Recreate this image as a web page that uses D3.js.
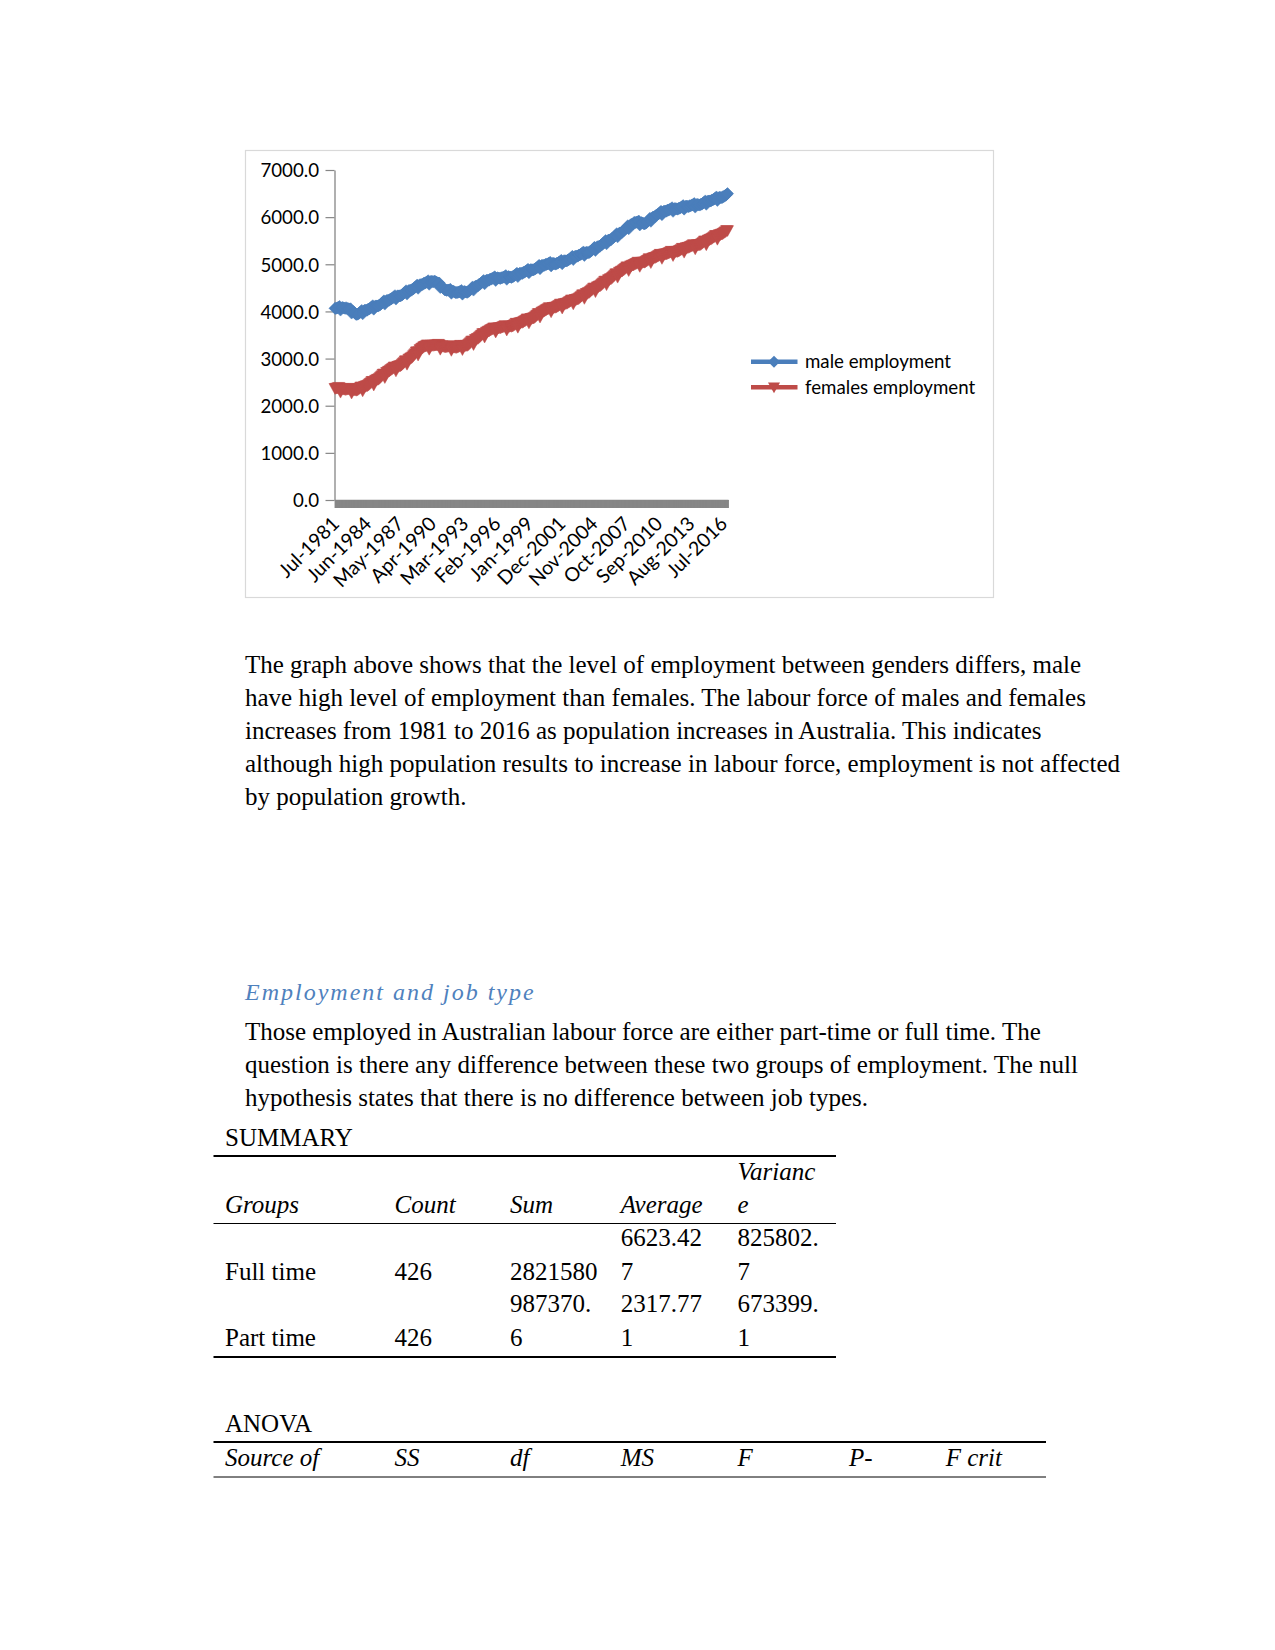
<!DOCTYPE html>
<html>
<head>
<meta charset="utf-8">
<script src="https://cdn.jsdelivr.net/npm/d3@7"></script>
<style>
  html, body { margin: 0; padding: 0; background: #ffffff; }
  svg { display: block; }
</style>
</head>
<body>
<svg id="page" width="1275" height="1650"></svg>
<script>
// ---------------- DATA ----------------
const seriesNames = ["male employment", "females employment"];
const tickLabels = ["Jul-1981","Jun-1984","May-1987","Apr-1990","Mar-1993","Feb-1996","Jan-1999",
  "Dec-2001","Nov-2004","Oct-2007","Sep-2010","Aug-2013","Jul-2016"];
const yTicks = [0, 1000, 2000, 3000, 4000, 5000, 6000, 7000];

// monthly values, Jul-1981 .. Dec-2016 (one row per Jul–Jun year)
const maleEmployment = [
  4066,4062,4073,4080,4091,4107,4028,4074,4085,4077,4073,4064,
  4080,4063,4062,4055,4053,4057,3965,3998,3997,3975,3958,3937,
  3940,3944,3963,3978,3997,4021,3950,4004,4023,4023,4027,4026,
  4050,4052,4069,4082,4099,4121,4048,4100,4117,4115,4117,4114,
  4136,4142,4162,4178,4199,4224,4155,4211,4231,4232,4238,4238,
  4264,4266,4283,4296,4313,4335,4262,4314,4331,4329,4331,4328,
  4350,4356,4376,4392,4412,4438,4368,4424,4444,4445,4450,4451,
  4476,4481,4501,4516,4536,4561,4491,4547,4567,4567,4572,4572,
  4597,4596,4610,4619,4633,4652,4576,4626,4640,4634,4633,4627,
  4646,4625,4619,4608,4602,4601,4506,4535,4529,4503,4482,4456,
  4455,4446,4452,4453,4458,4469,4385,4426,4432,4417,4408,4394,
  4405,4401,4413,4419,4430,4446,4367,4414,4425,4416,4412,4404,
  4420,4428,4451,4469,4492,4520,4452,4510,4533,4536,4544,4547,
  4575,4579,4599,4613,4633,4657,4587,4641,4660,4660,4664,4664,
  4688,4685,4698,4705,4717,4735,4657,4704,4717,4709,4706,4699,
  4716,4713,4725,4731,4743,4760,4682,4729,4741,4732,4729,4721,
  4738,4741,4758,4771,4789,4811,4739,4792,4809,4807,4810,4807,
  4830,4831,4847,4858,4873,4894,4820,4871,4887,4883,4883,4879,
  4900,4903,4922,4935,4953,4977,4905,4958,4977,4975,4978,4977,
  5000,4997,5008,5015,5027,5043,4965,5012,5023,5015,5012,5003,
  5020,5021,5037,5048,5063,5084,5010,5061,5077,5073,5073,5069,
  5090,5094,5113,5127,5146,5170,5099,5152,5171,5170,5174,5173,
  5197,5198,5214,5225,5241,5262,5188,5238,5254,5250,5251,5247,
  5268,5275,5297,5313,5335,5362,5294,5350,5372,5374,5381,5382,
  5409,5416,5438,5454,5476,5503,5435,5491,5513,5515,5522,5523,
  5550,5558,5581,5599,5622,5650,5583,5641,5664,5667,5675,5678,
  5706,5716,5742,5762,5787,5818,5753,5813,5839,5844,5854,5860,
  5890,5883,5891,5895,5903,5916,5834,5877,5885,5874,5867,5855,
  5868,5878,5903,5922,5947,5977,5912,5972,5997,6001,6011,6016,
  6046,6050,6068,6082,6101,6124,6053,6107,6125,6124,6128,6126,
  6150,6148,6161,6169,6182,6200,6123,6172,6185,6178,6176,6169,
  6187,6187,6201,6211,6226,6245,6170,6220,6234,6229,6229,6223,
  6243,6240,6253,6260,6273,6290,6213,6260,6272,6265,6262,6255,
  6272,6275,6292,6305,6323,6345,6273,6326,6343,6341,6344,6341,
  6364,6365,6381,6392,6408,6429,6355,6405,6421,6417,6418,6414,
  6435,6436,6452,6463,6479,6500
];
const femaleEmployment = [
  2369,2372,2376,2379,2392,2380,2289,2342,2365,2353,2356,2345,
  2348,2352,2356,2359,2373,2362,2271,2324,2348,2337,2341,2329,
  2333,2347,2361,2375,2399,2398,2317,2380,2414,2413,2427,2426,
  2440,2457,2474,2490,2517,2519,2441,2507,2544,2546,2563,2564,
  2581,2601,2621,2640,2670,2675,2600,2669,2709,2714,2734,2738,
  2758,2772,2786,2799,2823,2822,2741,2805,2839,2837,2851,2850,
  2864,2884,2903,2923,2953,2957,2882,2952,2991,2996,3016,3020,
  3040,3063,3085,3108,3141,3148,3076,3149,3191,3199,3222,3229,
  3252,3260,3268,3276,3294,3287,3200,3258,3286,3279,3287,3280,
  3288,3290,3292,3294,3306,3293,3200,3252,3274,3261,3263,3250,
  3252,3256,3260,3264,3278,3267,3176,3229,3253,3242,3246,3235,
  3239,3248,3257,3266,3285,3279,3193,3253,3282,3276,3285,3279,
  3288,3307,3325,3344,3372,3376,3300,3368,3407,3410,3429,3432,
  3451,3469,3487,3505,3533,3536,3459,3526,3564,3567,3585,3588,
  3606,3616,3626,3635,3655,3650,3565,3624,3654,3649,3659,3653,
  3663,3670,3678,3685,3702,3695,3607,3664,3692,3684,3691,3684,
  3691,3704,3716,3729,3752,3749,3667,3730,3762,3760,3773,3770,
  3783,3796,3808,3821,3844,3841,3759,3822,3854,3852,3865,3862,
  3875,3893,3911,3929,3957,3960,3883,3950,3988,3991,4009,4012,
  4030,4041,4052,4063,4083,4079,3995,4056,4087,4083,4093,4089,
  4100,4112,4124,4136,4158,4155,4073,4135,4167,4164,4176,4173,
  4185,4198,4211,4223,4246,4244,4162,4224,4257,4255,4268,4265,
  4278,4295,4312,4328,4355,4357,4279,4346,4383,4384,4401,4403,
  4420,4437,4454,4470,4497,4499,4421,4487,4524,4526,4543,4544,
  4561,4579,4597,4615,4643,4646,4569,4636,4674,4677,4695,4698,
  4716,4735,4753,4772,4800,4804,4728,4796,4835,4838,4857,4860,
  4879,4894,4909,4924,4949,4949,4870,4935,4970,4970,4985,4985,
  5000,5010,5019,5029,5048,5043,4958,5017,5047,5041,5051,5045,
  5055,5069,5083,5096,5120,5119,5038,5102,5136,5134,5148,5147,
  5161,5172,5183,5194,5215,5211,5127,5188,5219,5215,5226,5222,
  5233,5242,5251,5260,5279,5273,5188,5247,5276,5270,5279,5273,
  5282,5295,5307,5320,5342,5340,5258,5320,5353,5350,5363,5360,
  5373,5382,5392,5401,5420,5414,5329,5388,5417,5411,5421,5415,
  5424,5440,5455,5471,5496,5497,5417,5483,5518,5519,5534,5535,
  5550,5564,5578,5591,5615,5614,5533,5597,5631,5629,5643,5642,
  5656,5669,5683,5696,5719,5718
];

const paragraph1 = [
  "The graph above shows that the level of employment between genders differs, male",
  "have high level of employment than females. The labour force of males and females",
  "increases from 1981 to 2016 as population increases in Australia. This indicates",
  "although high population results to increase in labour force, employment is not affected",
  "by population growth."
];
const heading = "Employment and job type";
const paragraph2 = [
  "Those employed in Australian labour force are either part-time or full time. The",
  "question is there any difference between these two groups of employment. The null",
  "hypothesis states that there is no difference between job types."
];
const summaryHeaders = ["Groups", "Count", "Sum", "Average", "Variance"];
const summaryGroups = ["Full time", "Part time"];
const summaryCount = ["426", "426"];
const summarySum = ["2821580", "987370.6"];
const summaryAverage = ["6623.427", "2317.771"];
const summaryVariance = ["825802.7", "673399.1"];
const anovaHeaders = ["Source of", "SS", "df", "MS", "F", "P-", "F crit"];

// ---------------- CHART ----------------
const svg = d3.select("#page");
const fmtMonth = d3.timeFormat("%b-%Y");
const categories = d3.timeMonth.range(new Date(1981, 6, 1), new Date(2017, 0, 1)).map(fmtMonth);

const plot = { left: 334.5, right: 728, top: 170, bottom: 500 };
const blue = "#4a7ebb", red = "#be4b48", axisGray = "#868686";
const chartFont = "Lato, 'Open Sans', sans-serif";

// chart frame
svg.append("rect").attr("x", 245.5).attr("y", 150.5).attr("width", 748).attr("height", 447)
  .attr("fill", "#fff").attr("stroke", "#d9d9d9").attr("stroke-width", 1.2);

const x = d3.scalePoint().domain(categories).range([plot.left, plot.right]).padding(0.5);
const y = d3.scaleLinear().domain([0, 7000]).range([plot.bottom, plot.top]);

// y axis
const yAxis = svg.append("g").attr("transform", `translate(${plot.left},0)`)
  .call(d3.axisLeft(y).tickValues(yTicks).tickFormat(d3.format(".1f")).tickSize(9).tickPadding(6.5).tickSizeOuter(0));
yAxis.select(".domain").attr("stroke", axisGray).attr("stroke-width", 1.3);
yAxis.selectAll(".tick line").attr("stroke", axisGray).attr("stroke-width", 1.2);
yAxis.selectAll(".tick text").attr("font-family", chartFont).attr("font-size", 18.7).attr("fill", "#000").attr("dy", "0.36em");

// x axis: tick marks for every category form the grey band
const xAxisTicks = svg.append("g").attr("transform", `translate(0,${plot.bottom})`)
  .call(d3.axisBottom(x).tickValues(categories).tickFormat("").tickSize(8).tickSizeOuter(0));
xAxisTicks.select(".domain").attr("stroke", axisGray).attr("stroke-width", 1.3);
xAxisTicks.selectAll(".tick line").attr("stroke", axisGray).attr("stroke-width", 1.8);

// x tick labels (rotated)
const xAxisLabels = svg.append("g").attr("transform", `translate(0,${plot.bottom})`)
  .call(d3.axisBottom(x).tickValues(tickLabels).tickSize(0).tickPadding(0).tickSizeOuter(0));
xAxisLabels.select(".domain").remove();
xAxisLabels.selectAll(".tick text")
  .attr("font-family", chartFont).attr("font-size", 19.5).attr("fill", "#000")
  .attr("text-anchor", "end").attr("dy", null).attr("y", null)
  .attr("transform", "translate(5,25) rotate(-45)");

// series
const diamond = { draw(ctx, s) { const r = Math.sqrt(s) / 2; ctx.moveTo(0, -r); ctx.lineTo(r, 0); ctx.lineTo(0, r); ctx.lineTo(-r, 0); ctx.closePath(); } };
const triDown = { draw(ctx, s) { const r = Math.sqrt(s) / 2; ctx.moveTo(-r, -r * 0.8); ctx.lineTo(r, -r * 0.8); ctx.lineTo(0, r); ctx.closePath(); } };

const series = [
  { name: seriesNames[0], values: maleEmployment, color: blue, marker: diamond, size: 144 },
  { name: seriesNames[1], values: femaleEmployment, color: red, marker: triDown, size: 144 }
];
const line = d3.line().x((d, i) => x(categories[i])).y(d => y(d));

series.forEach(s => {
  const g = svg.append("g");
  g.append("path").datum(s.values).attr("d", line).attr("fill", "none")
    .attr("stroke", s.color).attr("stroke-width", 5).attr("stroke-linejoin", "round");
  g.selectAll("path.m").data(s.values).join("path").attr("class", "m")
    .attr("d", d3.symbol(s.marker, s.size))
    .attr("transform", (d, i) => `translate(${x(categories[i])},${y(d)})`)
    .attr("fill", s.color).attr("stroke", s.color).attr("stroke-width", 0.5);
});

// legend
const legend = svg.append("g");
series.forEach((s, i) => {
  const ly = 361.7 + i * 25.6;
  legend.append("line").attr("x1", 751).attr("x2", 797.5).attr("y1", ly).attr("y2", ly)
    .attr("stroke", s.color).attr("stroke-width", 4.5);
  legend.append("path").attr("d", d3.symbol(s.marker, 144)).attr("transform", `translate(774,${ly})`)
    .attr("fill", s.color);
  legend.append("text").attr("x", 805).attr("y", ly).attr("dy", "0.36em")
    .attr("font-family", chartFont).attr("font-size", 18.7).attr("fill", "#000").text(s.name);
});

// ---------------- TEXT ----------------
const serif = "'Liberation Serif', 'Times New Roman', serif";
const body = svg.append("g").attr("font-family", serif).attr("font-size", 25).attr("fill", "#000");
paragraph1.forEach((t, i) => body.append("text").attr("x", 245).attr("y", 673 + i * 33).text(t));
svg.append("text").attr("x", 245).attr("y", 1000).attr("font-family", serif).attr("font-style", "italic")
  .attr("font-size", 24).attr("letter-spacing", 2).attr("fill", "#4f81bd").text(heading);
paragraph2.forEach((t, i) => body.append("text").attr("x", 245).attr("y", 1040 + i * 33).text(t));

// ---------------- TABLES ----------------
const colX = [225, 394.5, 510, 620.7, 737.5, 849, 945.7];
const chunk = (s, n) => { const out = []; for (let i = 0; i < s.length; i += n) out.push(s.slice(i, i + n)); return out; };
function cell(g, str, col, base1, base2, italic) {
  const lines = chunk(str, 7);
  const bases = lines.length === 1 ? [base2] : [base1, base2];
  lines.forEach((l, k) => g.append("text").attr("x", colX[col]).attr("y", bases[k])
    .attr("font-style", italic ? "italic" : null).text(l));
}
const tbl = svg.append("g").attr("font-family", serif).attr("font-size", 25).attr("fill", "#000");
tbl.append("text").attr("x", 225).attr("y", 1146).text("SUMMARY");
const rule = (x1, x2, yy, w) => tbl.append("line").attr("x1", x1).attr("x2", x2).attr("y1", yy).attr("y2", yy)
  .attr("stroke", "#000").attr("stroke-width", w);
rule(213.5, 836, 1156, 2);
summaryHeaders.forEach((h, c) => {
  if (c === 0) tbl.append("text").attr("x", colX[0]).attr("y", 1213).attr("font-style", "italic").text(h);
  else cell(tbl, h, c, 1180, 1213, true);
});
rule(213.5, 836, 1223.5, 1);
summaryGroups.forEach((gname, r) => {
  const b1 = 1246 + r * 66, b2 = 1280 + r * 66;
  tbl.append("text").attr("x", colX[0]).attr("y", b2).text(gname);
  cell(tbl, summaryCount[r], 1, b1, b2);
  cell(tbl, summarySum[r], 2, b1, b2);
  cell(tbl, summaryAverage[r], 3, b1, b2);
  cell(tbl, summaryVariance[r], 4, b1, b2);
});
rule(213.5, 836, 1357, 2);

tbl.append("text").attr("x", 225).attr("y", 1432).text("ANOVA");
rule(213.5, 1046, 1442, 2);
anovaHeaders.forEach((h, c) => tbl.append("text").attr("x", colX[c]).attr("y", 1466).attr("font-style", "italic").text(h));
rule(213.5, 1046, 1477, 1);
</script>
</body>
</html>
